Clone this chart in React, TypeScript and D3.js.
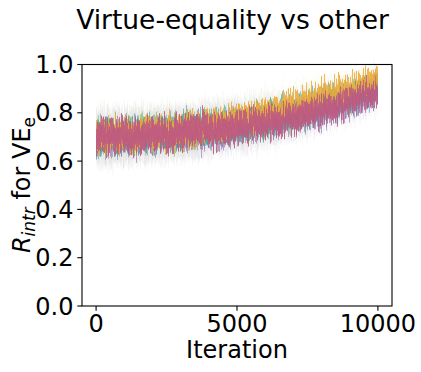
import React, { useEffect } from 'react';
import * as d3 from 'd3';

// ---- data ----
const ITERATIONS = [0, 1000, 2000, 3000, 4000, 5000, 6000, 7000, 8000, 9000, 10000];
const BLUE_MEAN = [0.7, 0.703, 0.708, 0.716, 0.727, 0.742, 0.76, 0.785, 0.815, 0.85, 0.89];
const GREEN_MEAN = [0.702, 0.706, 0.712, 0.722, 0.734, 0.75, 0.77, 0.797, 0.828, 0.864, 0.903];
const PURPLE_MEAN = [0.698, 0.7, 0.705, 0.713, 0.723, 0.737, 0.754, 0.778, 0.806, 0.84, 0.88];
const TEAL_MEAN = [0.702, 0.706, 0.713, 0.725, 0.738, 0.757, 0.778, 0.806, 0.84, 0.875, 0.912];
const ORANGE_MEAN = [0.705, 0.71, 0.717, 0.731, 0.747, 0.77, 0.797, 0.83, 0.866, 0.902, 0.935];
const PINK_MEAN = [0.7, 0.703, 0.708, 0.716, 0.728, 0.743, 0.76, 0.784, 0.813, 0.847, 0.885];
const SPREAD = [0.055, 0.055, 0.055, 0.054, 0.053, 0.052, 0.05, 0.048, 0.046, 0.043, 0.04];
const HALO = [0.11, 0.11, 0.108, 0.106, 0.104, 0.1, 0.096, 0.09, 0.085, 0.078, 0.07];

const X_TICKS = [0, 5000, 10000];
const Y_TICKS = [0, 0.2, 0.4, 0.6, 0.8, 1.0];

const TITLE = 'Virtue-equality vs other';
const X_LABEL = 'Iteration';

// ---- styles ----
const SERIES = [
  { mean: BLUE_MEAN, color: '#5b84b8', opacity: 0.5, seed: 11 },
  { mean: GREEN_MEAN, color: '#5fae5a', opacity: 0.5, seed: 23 },
  { mean: PURPLE_MEAN, color: '#8f5fa6', opacity: 0.55, seed: 37 },
  { mean: TEAL_MEAN, color: '#3aa893', opacity: 0.6, seed: 41 },
  { mean: ORANGE_MEAN, color: '#f0aa35', opacity: 0.85, seed: 53 },
  { mean: PINK_MEAN, color: '#bf5a82', opacity: 0.88, seed: 67 },
];

const W = 421;
const H = 372;
const FONT = 'DejaVu Sans, sans-serif';

export default function App() {
  useEffect(() => {
    document.body.style.margin = '0';
  }, []);

  const x = d3.scaleLinear().domain([-500, 10500]).range([82, 392]);
  const y = d3.scaleLinear().domain([0, 1]).range([306, 64.5]);

  const band = (mean: number[], width: number[], k: number) =>
    d3
      .area<number>()
      .x((_, i) => x(ITERATIONS[i]))
      .y0((_, i) => y(mean[i] - width[i] * k))
      .y1((_, i) => y(mean[i] + width[i] * k))
      .curve(d3.curveMonotoneX)(ITERATIONS) || '';

  const filters = SERIES.flatMap((s) => [s.seed, s.seed + 1]);

  return (
    <svg width={W} height={H} style={{ display: 'block', background: '#fff' }}>
      <defs>
        {filters.map((seed) => (
          <filter key={seed} id={`streak${seed}`} x="-5%" y="-60%" width="110%" height="220%">
            <feTurbulence
              type="fractalNoise"
              baseFrequency="0.9 0.003"
              numOctaves={2}
              seed={seed}
              result="n"
            />
            <feColorMatrix
              in="n"
              type="matrix"
              values="0 0 0 0 0.5  0 1 0 0 0  0 0 1 0 0  0 0 0 0 1"
              result="m"
            />
            <feDisplacementMap
              in="SourceGraphic"
              in2="m"
              scale={36}
              xChannelSelector="R"
              yChannelSelector="G"
            />
          </filter>
        ))}
      </defs>

      <text x={232.5} y={29} fontFamily={FONT} fontSize={26.5} textAnchor="middle" fill="#000">
        {TITLE}
      </text>

      {/* halos */}
      {SERIES.map((s) => (
        <path
          key={'h' + s.seed}
          d={band(s.mean, HALO, 1)}
          fill={s.color}
          opacity={0.03}
          filter={`url(#streak${s.seed + 1})`}
        />
      ))}
      {/* dense bands */}
      {SERIES.map((s) => (
        <path
          key={'b' + s.seed}
          d={band(s.mean, SPREAD, 1)}
          fill={s.color}
          opacity={s.opacity}
          filter={`url(#streak${s.seed})`}
        />
      ))}
      {/* inner core */}
      {SERIES.slice(-1).map((s) => (
        <path
          key={'c' + s.seed}
          d={band(s.mean, SPREAD, 0.55)}
          fill={s.color}
          opacity={0.6}
          filter={`url(#streak${s.seed + 1})`}
        />
      ))}

      {/* axes frame */}
      <rect x={82} y={64.5} width={310} height={241.5} fill="none" stroke="#000" strokeWidth={1.1} />

      {Y_TICKS.map((t) => (
        <g key={'y' + t}>
          <line x1={77.3} x2={82} y1={y(t)} y2={y(t)} stroke="#000" strokeWidth={1.1} />
          <text
            x={73.5}
            y={y(t)}
            dy="0.36em"
            fontFamily={FONT}
            fontSize={24}
            textAnchor="end"
            fill="#000"
          >
            {t.toFixed(1)}
          </text>
        </g>
      ))}
      {X_TICKS.map((t) => (
        <g key={'x' + t}>
          <line x1={x(t)} x2={x(t)} y1={306} y2={310.7} stroke="#000" strokeWidth={1.1} />
          <text x={x(t)} y={332} fontFamily={FONT} fontSize={24} textAnchor="middle" fill="#000">
            {t}
          </text>
        </g>
      ))}

      <text x={237} y={358} fontFamily={FONT} fontSize={24} textAnchor="middle" fill="#000">
        {X_LABEL}
      </text>

      <text
        transform={`translate(30,185) rotate(-90)`}
        fontFamily={FONT}
        fontSize={24}
        textAnchor="middle"
        fill="#000"
      >
        <tspan fontStyle="italic">R</tspan>
        <tspan fontStyle="italic" fontSize={17} dy={5}>
          intr
        </tspan>
        <tspan dy={-5}> for VE</tspan>
        <tspan fontSize={17} dy={5}>
          e
        </tspan>
      </text>
    </svg>
  );
}
